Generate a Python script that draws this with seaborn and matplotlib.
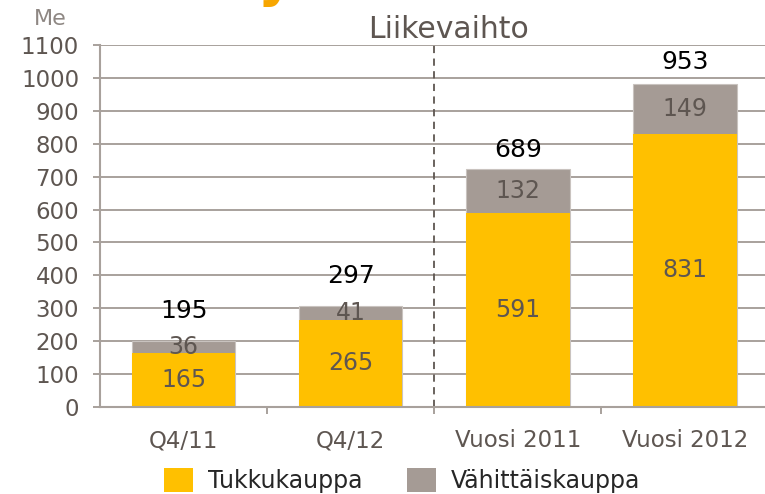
import numpy as np
import pandas as pd
import matplotlib
matplotlib.use("Agg")
import matplotlib.pyplot as plt
import seaborn as sns
from matplotlib.patches import Patch

# data
periods = ["Q4/11", "Q4/12", "Vuosi 2011", "Vuosi 2012"]
tukku = [165, 265, 591, 831]
vahittais = [36, 41, 132, 149]
totals = [195, 297, 689, 953]
total_label_pos = [292, 398, 781, 1049]   # where the total labels sit (Me)

YELLOW = "#FFC000"
GREY = "#A59B95"
AXIS = "#A8A19C"
TXT = "#5E5651"

sns.set_theme(style="white")
plt.rcParams["font.family"] = ["DejaVu Sans"]

df = pd.DataFrame({"period": periods, "tukku": tukku, "vahittais": vahittais})
df["stack"] = df["tukku"] + df["vahittais"]

fig = plt.figure(figsize=(7.65, 4.94), dpi=100)
ax = fig.add_axes([0.1307, 0.1761, 0.8693, 0.7328])

sns.barplot(data=df, x="period", y="stack", color=GREY, width=0.62,
            saturation=1, ax=ax, edgecolor="#C9C3BF", linewidth=0.8)
sns.barplot(data=df, x="period", y="tukku", color=YELLOW, width=0.62,
            saturation=1, ax=ax, linewidth=0)

ax.set_xlim(-0.5, 3.48)
ax.set_ylim(0, 1100)
ax.set_yticks(np.arange(0, 1101, 100))
ax.yaxis.grid(True, color=AXIS, linewidth=1.4)
ax.set_axisbelow(True)
ax.set_xlabel("")
ax.set_ylabel("")

for s in ["top", "right"]:
    ax.spines[s].set_visible(False)
for s in ["left", "bottom"]:
    ax.spines[s].set_color(AXIS)
    ax.spines[s].set_linewidth(1.5)

ax.tick_params(axis="y", which="major", left=True, length=5, width=1.4,
               color=AXIS, pad=10, labelsize=16.5, labelcolor=TXT)
ax.tick_params(axis="x", which="major", bottom=False, length=0, pad=16,
               labelsize=16.5, labelcolor=TXT)
ax.set_xticks([0.5, 1.5, 2.5], minor=True)
ax.tick_params(axis="x", which="minor", bottom=True, length=5, width=1.4,
               color=AXIS)

# dashed separator between quarters and full years
ax.axvline(1.5, color="#5E5651", linestyle=(0, (4, 3)), linewidth=1.3)

# segment labels
for i in range(len(periods)):
    ax.text(i, tukku[i] / 2, str(tukku[i]), ha="center", va="center",
            fontsize=17, color=TXT)
    ax.text(i, tukku[i] + vahittais[i] / 2, str(vahittais[i]), ha="center",
            va="center", fontsize=17, color=TXT)
    ax.text(i, total_label_pos[i], str(totals[i]), ha="center", va="center",
            fontsize=18, color="black")

fig.text(0.586, 0.94, "Liikevaihto", ha="center", va="center", fontsize=21.5,
         color=TXT)
fig.text(0.066, 0.962, "Me", ha="center", va="center", fontsize=16,
         color="#8E8783")
# bit of the slide title cut off at the top
fig.text(0.36, 0.985, "y", ha="center", va="bottom", fontsize=40,
         color="#F7A600", fontweight="bold")

handles = [Patch(facecolor=YELLOW, edgecolor="none", label="Tukkukauppa"),
           Patch(facecolor=GREY, edgecolor="none", label="Vähittäiskauppa")]
fig.legend(handles=handles, loc="center", bbox_to_anchor=(0.526, 0.028),
           ncol=2, frameon=False, fontsize=17, handlelength=1.2,
           handleheight=1.2, handletextpad=0.65, columnspacing=1.9)

fig.savefig("out.png", dpi=100)
